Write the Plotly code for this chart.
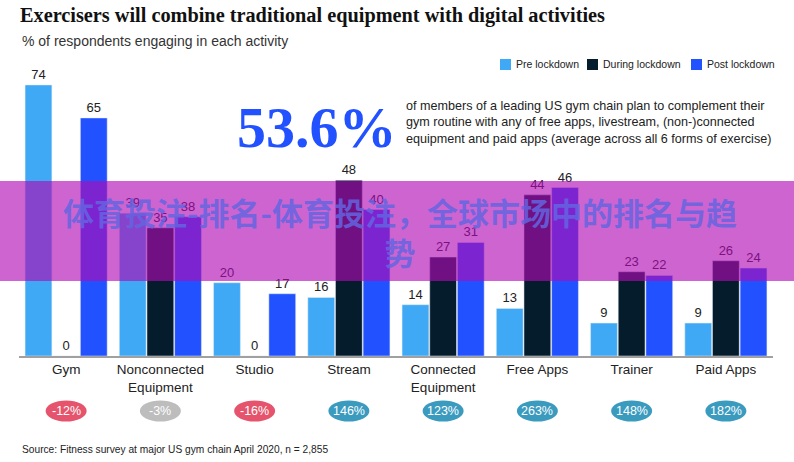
import plotly.graph_objects as go

categories = ["Gym", "Nonconnected<br>Equipment", "Studio", "Stream", "Connected<br>Equipment",
              "Free Apps", "Trainer", "Paid Apps"]
pre = [74, 39, 20, 16, 14, 13, 9, 9]
during = [0, 35, 0, 48, 27, 44, 23, 26]
post = [65, 38, 17, 40, 31, 46, 22, 24]
changes = ["-12%", "-3%", "-16%", "146%", "123%", "263%", "148%", "182%"]
change_colors = ["#E5546C", "#BDBDBD", "#E5546C", "#3A9BBF", "#3A9BBF", "#3A9BBF", "#3A9BBF", "#3A9BBF"]
series_names = ["Pre lockdown", "During lockdown", "Post lockdown"]
series_colors = ["#3FA9F5", "#051C2C", "#2251FF"]

W, H = 794, 462
L, R, T, B = 19, 21, 63, 106
PW, PH = W - L - R, H - T - B

def px(x):
    return (x - L) / PW

def py(y):
    return (H - B - y) / PH

fig = go.Figure()
for name, vals, col in zip(series_names, [pre, during, post], series_colors):
    fig.add_trace(go.Bar(
        x=list(range(len(categories))), y=vals, name=name, marker_color=col,
        text=[str(v) for v in vals], textposition="outside", cliponaxis=False,
        textfont=dict(family="Liberation Sans, Arial", size=13, color="#222222"),
        showlegend=False, hoverinfo="skip",
    ))

shapes = []
annotations = []

# manual legend
leg_x = [500, 587, 691]
for name, col, lx in zip(series_names, series_colors, leg_x):
    shapes.append(dict(type="rect", xref="paper", yref="paper",
                       x0=px(lx), x1=px(lx + 11), y0=py(70), y1=py(59),
                       fillcolor=col, line=dict(width=0)))
    annotations.append(dict(text=name, xref="paper", yref="paper", x=px(lx + 14), y=py(64.5),
                            xanchor="left", yanchor="middle", showarrow=False,
                            font=dict(family="Liberation Sans, Arial", size=10.5, color="#222222")))

# change pills
n = len(categories)
for i, (c, col) in enumerate(zip(changes, change_colors)):
    cx = (i + 0.5) / n
    hw = 20.5 / PW
    shapes.append(dict(type="circle", xref="paper", yref="paper",
                       x0=cx - hw, x1=cx + hw, y0=py(421.5), y1=py(400.5),
                       fillcolor=col, line=dict(width=0)))
    annotations.append(dict(text=c, xref="paper", yref="paper", x=cx, y=py(411),
                            xanchor="center", yanchor="middle", showarrow=False,
                            font=dict(family="Liberation Sans Narrow, Liberation Sans, Arial", size=12.5, color="white")))

# big stat
annotations.append(dict(text="<b>53.6%</b>", xref="paper", yref="paper", x=px(317), y=py(128),
                        xanchor="center", yanchor="middle", showarrow=False,
                        font=dict(family="Liberation Serif, DejaVu Serif", size=58, color="#2251FF")))
annotations.append(dict(
    text="of members of a leading US gym chain plan to complement their<br>"
         "gym routine with any of free apps, livestream, (non-)connected<br>"
         "equipment and paid apps (average across all 6 forms of exercise)",
    xref="paper", yref="paper", x=px(404), y=py(122), xanchor="left", yanchor="middle",
    align="left", showarrow=False,
    font=dict(family="Liberation Sans, Arial", size=12.6, color="#222222")))

# overlay band
shapes.append(dict(type="rect", xref="paper", yref="paper", layer="above",
                   x0=px(0), x1=px(W), y0=py(281), y1=py(181),
                   fillcolor="rgba(176,10,180,0.63)", line=dict(width=0)))
annotations.append(dict(text="<b>体育投注-排名-体育投注，全球市场中的排名与趋<br>势</b>",
                        xref="paper", yref="paper", x=px(400), y=py(232),
                        xanchor="center", yanchor="middle", align="center", showarrow=False,
                        font=dict(family="Noto Sans CJK SC", size=31, color="rgba(100,100,225,0.85)")))

fig.update_layout(
    width=W, height=H,
    margin=dict(l=L, r=R, t=T, b=B),
    paper_bgcolor="white", plot_bgcolor="white",
    barmode="group", bargap=0.12, bargroupgap=0.03,
    title=dict(text="<b>Exercisers will combine traditional equipment with digital activities</b>",
               xref="container", x=20 / W, xanchor="left",
               yref="container", y=1 - 15 / H, yanchor="middle",
               font=dict(family="Liberation Serif, DejaVu Serif", size=20.3, color="#111111")),
    xaxis=dict(tickmode="array", tickvals=list(range(n)), ticktext=categories,
               range=[-0.5, n - 0.5], showgrid=False, zeroline=False,
               showline=True, linecolor="#A0A0A0", linewidth=2, ticks="",
               tickfont=dict(family="Liberation Sans, Arial", size=13.5, color="#222222")),
    yaxis=dict(range=[0, 80], visible=False, showgrid=False, zeroline=False),
    shapes=shapes,
    annotations=annotations + [
        dict(text="% of respondents engaging in each activity", xref="paper", yref="paper",
             x=px(20), y=py(41), xanchor="left", yanchor="middle", showarrow=False,
             font=dict(family="Liberation Sans, Arial", size=14, color="#333333")),
        dict(text="Source: Fitness survey at major US gym chain April 2020, n = 2,855", xref="paper", yref="paper",
             x=px(20), y=py(450), xanchor="left", yanchor="middle", showarrow=False,
             font=dict(family="Liberation Sans, Arial", size=10.2, color="#222222")),
    ],
)

fig.write_html("out.html")
